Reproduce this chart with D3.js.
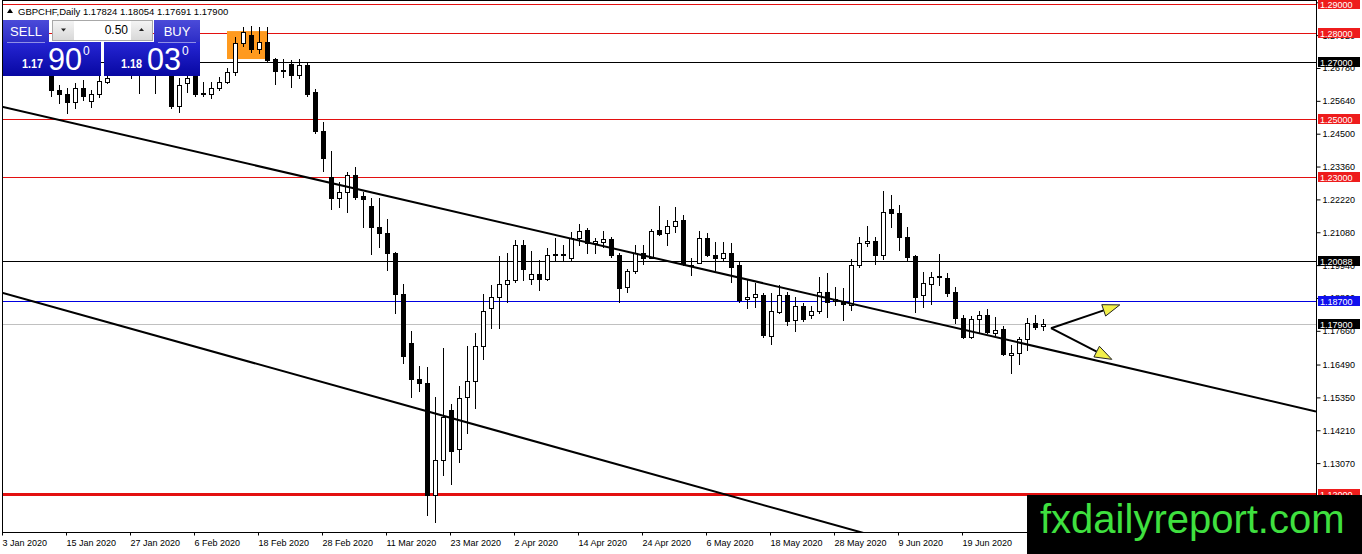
<!DOCTYPE html>
<html lang="en">
  <head>
    <meta charset="UTF-8" />
    <title>GBPCHF, Daily</title>
    <script src="https://d3js.org/d3.v7.min.js"></script>
    <style>
      body { margin: 0; background: #fff; }
      text { font-family: 'Liberation Sans', Arial, sans-serif; }
    </style>
  </head>
  <body>
    <div id="chart"></div>
    <script>
      // daily bars, 3 Jan 2020 .. 3 Jul 2020
      const open = [
        1.2770, 1.2720, 1.2765, 1.2735, 1.2775, 1.2760, 1.2657, 1.2602, 1.2588, 1.2560,
        1.2609, 1.2563, 1.2588, 1.2629, 1.2665, 1.2695, 1.2690, 1.2660, 1.2675, 1.2700,
        1.2680, 1.2670, 1.2546, 1.2626, 1.2655, 1.2592, 1.2588, 1.2609, 1.2629, 1.2664,
        1.2765, 1.2793, 1.2744, 1.2768, 1.2709, 1.2671, 1.2692, 1.2654, 1.2688, 1.2595,
        1.2459, 1.2300, 1.2227, 1.2248, 1.2307, 1.2234, 1.2199, 1.2126, 1.2105, 1.2036,
        1.1894, 1.1724, 1.1599, 1.1585, 1.1196, 1.1318, 1.1491, 1.1356, 1.1536, 1.1592,
        1.1713, 1.1845, 1.1883, 1.1928, 1.1942, 1.2064, 1.1946, 1.1963, 1.1946, 1.2029,
        1.2032, 1.2019, 1.2088, 1.2116, 1.2071, 1.2074, 1.2085, 1.2029, 1.1918, 1.1974,
        1.2036, 1.2019, 1.2116, 1.2105, 1.2130, 1.2151, 1.1994, 1.2001, 1.2088, 1.2029,
        1.2019, 1.2036, 1.1994, 1.1876, 1.1883, 1.1890, 1.1748, 1.1831, 1.1890, 1.1803,
        1.1852, 1.1821, 1.1835, 1.1901, 1.1870, 1.1869, 1.1856, 1.1994, 1.2071, 1.2078,
        1.2029, 1.2189, 1.2175, 1.2091, 1.2026, 1.1890, 1.1928, 1.1956, 1.1949, 1.1901,
        1.1810, 1.1745, 1.1807, 1.1821, 1.1758, 1.1772, 1.1682, 1.1689, 1.1738, 1.1793,
        1.17824
      ]
      const high = [
        1.2800, 1.2780, 1.2800, 1.2790, 1.2810, 1.2775, 1.2678, 1.2619, 1.2609, 1.2626,
        1.2636, 1.2602, 1.2650, 1.2671, 1.2710, 1.2730, 1.2715, 1.2695, 1.2710, 1.2725,
        1.2700, 1.2690, 1.2643, 1.2650, 1.2668, 1.2629, 1.2629, 1.2647, 1.2678, 1.2786,
        1.2820, 1.2824, 1.2820, 1.2820, 1.2713, 1.2709, 1.2706, 1.2709, 1.2699, 1.2605,
        1.2491, 1.2390, 1.2282, 1.2317, 1.2334, 1.2248, 1.2227, 1.2227, 1.2154, 1.2039,
        1.1928, 1.1765, 1.1644, 1.1640, 1.1536, 1.1706, 1.1512, 1.1574, 1.1713, 1.1758,
        1.1894, 1.1925, 1.2026, 1.2036, 1.2081, 1.2081, 1.2043, 1.2012, 1.2053, 1.2088,
        1.2064, 1.2109, 1.2137, 1.2123, 1.2088, 1.2112, 1.2091, 1.2036, 1.1981, 1.2064,
        1.2064, 1.2119, 1.2199, 1.2151, 1.2196, 1.2168, 1.2019, 1.2112, 1.2105, 1.2074,
        1.2074, 1.2071, 1.2005, 1.1942, 1.1932, 1.1897, 1.1897, 1.1925, 1.1901, 1.1883,
        1.1862, 1.1852, 1.1953, 1.1967, 1.1918, 1.1915, 1.2015, 1.2091, 1.2130, 1.2091,
        1.2251, 1.2237, 1.2203, 1.2126, 1.2030, 1.1970, 1.1970, 1.2033, 1.1967, 1.1918,
        1.1821, 1.1817, 1.1835, 1.1842, 1.1814, 1.1783, 1.1717, 1.1744, 1.1810, 1.1821,
        1.18054
      ]
      const low = [
        1.2705, 1.2700, 1.2715, 1.2720, 1.2740, 1.2660, 1.2581, 1.2557, 1.2522, 1.2539,
        1.2567, 1.2543, 1.2577, 1.2626, 1.2660, 1.2670, 1.2643, 1.2591, 1.2655, 1.2591,
        1.2660, 1.2539, 1.2525, 1.2595, 1.2581, 1.2581, 1.2574, 1.2602, 1.2626, 1.2654,
        1.2754, 1.2733, 1.2730, 1.2699, 1.2622, 1.2647, 1.2612, 1.2643, 1.2581, 1.2452,
        1.2321, 1.2189, 1.2196, 1.2178, 1.2223, 1.2126, 1.2033, 1.2057, 1.1977, 1.1828,
        1.1654, 1.1536, 1.1557, 1.1127, 1.1103, 1.1266, 1.1234, 1.1311, 1.1411, 1.1498,
        1.1668, 1.1776, 1.1776, 1.1866, 1.1935, 1.1942, 1.1928, 1.1908, 1.1942, 1.2012,
        1.2012, 1.2008, 1.2064, 1.2036, 1.2036, 1.2057, 1.2022, 1.1866, 1.1901, 1.1967,
        1.1998, 1.2019, 1.2098, 1.2064, 1.2109, 1.1994, 1.1960, 1.2001, 1.2026, 1.1977,
        1.2008, 1.1935, 1.1866, 1.1845, 1.1849, 1.1746, 1.1720, 1.1828, 1.1786, 1.1765,
        1.1800, 1.1810, 1.1828, 1.1814, 1.1856, 1.1803, 1.1838, 1.1987, 1.2060, 1.1998,
        1.2015, 1.2126, 1.2046, 1.2012, 1.1831, 1.1849, 1.1859, 1.1925, 1.1887, 1.1793,
        1.1741, 1.1741, 1.1758, 1.1758, 1.1751, 1.1682, 1.1620, 1.1651, 1.1699, 1.1772,
        1.17691
      ]
      const close = [
        1.2720, 1.2765, 1.2735, 1.2775, 1.2760, 1.2668, 1.2602, 1.2588, 1.2560, 1.2609,
        1.2581, 1.2588, 1.2633, 1.2643, 1.2695, 1.2685, 1.2660, 1.2675, 1.2700, 1.2680,
        1.2670, 1.2546, 1.2619, 1.2643, 1.2588, 1.2588, 1.2609, 1.2629, 1.2664, 1.2765,
        1.2803, 1.2744, 1.2768, 1.2706, 1.2667, 1.2667, 1.2654, 1.2688, 1.2588, 1.2459,
        1.2366, 1.2227, 1.2248, 1.2307, 1.2230, 1.2223, 1.2126, 1.2105, 1.2036, 1.1894,
        1.1679, 1.1599, 1.1585, 1.1196, 1.1318, 1.1467, 1.1349, 1.1533, 1.1592, 1.1713,
        1.1835, 1.1883, 1.1928, 1.1942, 1.2064, 1.1981, 1.1963, 1.1946, 1.2029, 1.2032,
        1.2029, 1.2088, 1.2112, 1.2071, 1.2078, 1.2085, 1.2029, 1.1915, 1.1974, 1.2036,
        1.2019, 1.2112, 1.2102, 1.2130, 1.2147, 1.1998, 1.1991, 1.2088, 1.2029, 1.2019,
        1.2036, 1.1987, 1.1873, 1.1883, 1.1894, 1.1750, 1.1835, 1.1890, 1.1800, 1.1852,
        1.1807, 1.1835, 1.1901, 1.1866, 1.1876, 1.1859, 1.1994, 1.2071, 1.2078, 1.2029,
        1.2178, 1.2175, 1.2091, 1.2022, 1.1883, 1.1932, 1.1953, 1.1953, 1.1897, 1.1810,
        1.1745, 1.1807, 1.1821, 1.1761, 1.1769, 1.1686, 1.1689, 1.1738, 1.1793, 1.1779,
        1.17900
      ]

      const symbol = 'GBPCHF,Daily'
      const askPrice = 1.1803
      const lotSize = '0.50'

      // time axis labels
      const tickDates = [
        '2020-01-03', '2020-01-15', '2020-01-27', '2020-02-06', '2020-02-18', '2020-02-28',
        '2020-03-11', '2020-03-23', '2020-04-02', '2020-04-14', '2020-04-24', '2020-05-06',
        '2020-05-18', '2020-05-28', '2020-06-09', '2020-06-19'
      ]
      // price axis labels
      const priceTicks = [
        1.2906, 1.2792, 1.2678, 1.2564, 1.2450, 1.2336, 1.2222, 1.2108,
        1.1994, 1.1880, 1.1766, 1.1649, 1.1535, 1.1421, 1.1307, 1.1193
      ]

      // horizontal levels drawn on the chart
      const levelPrices = [1.29, 1.28, 1.27, 1.25, 1.23, 1.20088, 1.187, 1.12]
      const levelKinds = ['res', 'res', 'pivot', 'res', 'res', 'pivot', 'target', 'support']

      // trend lines: [bar index, price] pairs
      const trendUpper = [[0, 1.2543], [130, 1.1706]]
      const trendLower = [[0, 1.1897], [130, 1.0891]]
      // highlighted zone (bar from, bar to, price top, price bottom)
      const zone = [28, 33, 1.2806, 1.2709]
      // scenario arrows
      const arrowFrom = [131, 1.1775]
      const arrowTo = [[139.6, 1.1856], [138.6, 1.1667]]

      const width = 1362, height = 554
      const plot = { left: 2, top: 1, right: 1316, bottom: 532.5 }

      const kindColor = { res: '#e31010', pivot: '#000000', target: '#0000e0', support: '#e31010' }
      const labelColor = { res: '#ee1c1c', pivot: '#000000', target: '#1010ee', support: '#ee1c1c' }

      const parse = d3.timeParse('%Y-%m-%d')
      const fmtDate = d3.timeFormat('%-d %b %Y')
      const fmtPrice = d3.format('.5f')

      const days = d3.timeDay
        .range(new Date(2020, 0, 3), new Date(2020, 6, 4))
        .filter(d => d.getDay() % 6 !== 0)

      const bars = days.map((d, i) => ({ i, date: d, o: open[i], h: high[i], l: low[i], c: close[i] }))

      const x = d3.scaleLinear().domain([0, 130]).range([3, 1043])
      const y = d3.scaleLinear().domain([1.10645, 1.29104]).range([533, 1])

      const svg = d3
        .select('#chart')
        .append('svg')
        .attr('width', width)
        .attr('height', height)
        .style('display', 'block')

      const defs = svg.append('defs')
      defs.append('clipPath').attr('id', 'plotclip')
        .append('rect')
        .attr('x', plot.left).attr('y', plot.top)
        .attr('width', plot.right - plot.left).attr('height', plot.bottom - plot.top)

      const grad = (id, c0, c1) => {
        const g = defs.append('linearGradient').attr('id', id)
          .attr('x1', 0).attr('y1', 0).attr('x2', 0).attr('y2', 1)
        g.append('stop').attr('offset', '0%').attr('stop-color', c0)
        g.append('stop').attr('offset', '100%').attr('stop-color', c1)
      }
      grad('btnGrad', '#4b4bd9', '#2d2dc6')
      grad('priceGrad', '#2626d4', '#0707a2')
      grad('spinGrad', '#f4f4f4', '#d8d8d8')

      svg.append('rect').attr('width', width).attr('height', height).attr('fill', '#fff')

      const chart = svg.append('g').attr('clip-path', 'url(#plotclip)')

      // horizontal levels
      chart.selectAll('.level')
        .data(levelPrices)
        .join('line')
        .attr('class', 'level')
        .attr('x1', plot.left).attr('x2', plot.right)
        .attr('y1', d => Math.round(y(d)) + 0.5)
        .attr('y2', d => Math.round(y(d)) + 0.5)
        .attr('stroke', (d, i) => kindColor[levelKinds[i]])
        .attr('stroke-width', (d, i) => levelKinds[i] === 'support' ? 3 : 1)

      // bid line
      const bid = close[close.length - 1]
      chart.append('line')
        .attr('x1', plot.left).attr('x2', plot.right)
        .attr('y1', Math.round(y(bid)) + 0.5).attr('y2', Math.round(y(bid)) + 0.5)
        .attr('stroke', '#c0c0c0')

      // highlighted zone
      chart.append('rect')
        .attr('x', x(zone[0]))
        .attr('y', y(zone[2]))
        .attr('width', x(zone[1]) - x(zone[0]) + 1)
        .attr('height', y(zone[3]) - y(zone[2]))
        .attr('fill', '#ff9a1e')

      // candles
      const cx = d => Math.round(x(d.i)) + 0.5
      const candles = chart.append('g').attr('shape-rendering', 'crispEdges')
      candles.selectAll('.wick')
        .data(bars)
        .join('line')
        .attr('class', 'wick')
        .attr('x1', cx).attr('x2', cx)
        .attr('y1', d => Math.round(y(d.h)))
        .attr('y2', d => Math.round(y(d.l)) + 1)
        .attr('stroke', '#000')
      candles.selectAll('.body')
        .data(bars)
        .join('rect')
        .attr('class', 'body')
        .attr('x', d => cx(d) - 2)
        .attr('y', d => Math.round(y(Math.max(d.o, d.c))) + 0.5)
        .attr('width', 4)
        .attr('height', d => Math.max(1, Math.round(y(Math.min(d.o, d.c))) - Math.round(y(Math.max(d.o, d.c)))))
        .attr('fill', d => d.c >= d.o ? '#fff' : '#000')
        .attr('stroke', '#000')

      // trend lines extended across the plot
      const i0 = x.invert(plot.left), i1 = x.invert(plot.right)
      const extend = pts => {
        const s = (pts[1][1] - pts[0][1]) / (pts[1][0] - pts[0][0])
        return [[i0, pts[0][1] + s * (i0 - pts[0][0])], [i1, pts[0][1] + s * (i1 - pts[0][0])]]
      }
      const lineGen = d3.line().x(d => x(d[0])).y(d => y(d[1]))
      chart.selectAll('.trend')
        .data([trendUpper, trendLower])
        .join('path')
        .attr('class', 'trend')
        .attr('d', d => lineGen(extend(d)))
        .attr('fill', 'none')
        .attr('stroke', '#000')
        .attr('stroke-width', 2)

      // scenario arrows
      const ax = x(arrowFrom[0]), ay = y(arrowFrom[1])
      arrowTo.forEach(t => {
        const tx = x(t[0]), ty = y(t[1])
        const ang = Math.atan2(ty - ay, tx - ax)
        const len = 17, hw = 6
        const bx = tx - len * Math.cos(ang), by = ty - len * Math.sin(ang)
        const nx = -Math.sin(ang), ny = Math.cos(ang)
        chart.append('line')
          .attr('x1', ax).attr('y1', ay).attr('x2', bx).attr('y2', by)
          .attr('stroke', '#000').attr('stroke-width', 2)
        chart.append('path')
          .attr('d', `M${tx},${ty}L${bx + nx * hw},${by + ny * hw}L${bx - nx * hw},${by - ny * hw}Z`)
          .attr('fill', '#f2f04a')
          .attr('stroke', '#222')
          .attr('stroke-width', 1)
      })

      // frame
      svg.append('rect')
        .attr('x', plot.left + 0.5).attr('y', plot.top - 0.5)
        .attr('width', plot.right - plot.left).attr('height', plot.bottom - plot.top + 0.5)
        .attr('fill', 'none')
        .attr('stroke', '#000')

      // price axis
      const yAxis = svg.append('g')
        .attr('transform', `translate(${plot.right + 0.5},0)`)
        .call(d3.axisRight(y).tickValues(priceTicks).tickSize(4).tickSizeOuter(0).tickPadding(2).tickFormat(fmtPrice))
      yAxis.select('.domain').remove()
      yAxis.selectAll('text').attr('font-size', 9).attr('font-family', 'Liberation Sans, Arial, sans-serif').attr('fill', '#000')
      yAxis.selectAll('line').attr('stroke', '#000')

      // time axis
      const tickIdx = tickDates.map(s => days.findIndex(d => +d === +parse(s)))
      const xAxis = svg.append('g')
        .attr('transform', `translate(0,${plot.bottom})`)
        .call(d3.axisBottom(x).tickValues(tickIdx).tickSize(3).tickSizeOuter(0).tickFormat(i => fmtDate(days[i])))
      xAxis.select('.domain').remove()
      xAxis.selectAll('.tick').attr('transform', d => `translate(${Math.round(x(d)) - 0.5},0)`)
      xAxis.selectAll('line').attr('stroke', '#000')
      xAxis.selectAll('text')
        .attr('text-anchor', 'start')
        .attr('x', 0)
        .attr('y', 13)
        .attr('dy', 0)
        .attr('font-size', 9)
        .attr('font-family', 'Liberation Sans, Arial, sans-serif')
        .attr('fill', '#000')

      // price labels on the axis
      const tags = levelPrices.map((p, i) => ({ p, fill: labelColor[levelKinds[i]] }))
      tags.push({ p: bid, fill: '#000000' })
      const tag = svg.selectAll('.tag')
        .data(tags)
        .join('g')
        .attr('class', 'tag')
        .attr('transform', d => `translate(${plot.right + 2},${Math.round(y(d.p))})`)
      tag.append('rect')
        .attr('x', 0).attr('y', -5).attr('width', 42).attr('height', 10)
        .attr('fill', d => d.fill)
      tag.append('text')
        .attr('x', 2).attr('y', 4)
        .attr('font-size', 9)
        .attr('fill', '#fff')
        .text(d => fmtPrice(d.p))

      // title
      const last = bars[bars.length - 1]
      svg.append('path').attr('d', 'M7,13L10,8.5L13,13Z').attr('fill', '#000')
      svg.append('text')
        .attr('x', 18).attr('y', 15)
        .attr('font-size', 9.5)
        .attr('fill', '#000')
        .text(`${symbol}  ${[last.o, last.h, last.l, last.c].map(fmtPrice).join(' ')}`)

      // one-click trading panel
      const panel = svg.append('g')
      const drawSide = (left, w, label, price) => {
        const s = fmtPrice(price)
        const btnX = label === 'SELL' ? left : left + w - 46
        panel.append('rect').attr('x', btnX).attr('y', 20).attr('width', 46).attr('height', 22).attr('fill', 'url(#btnGrad)')
        panel.append('rect').attr('x', left).attr('y', 42).attr('width', w).attr('height', 34).attr('fill', 'url(#priceGrad)')
        panel.append('line')
          .attr('x1', btnX + 4).attr('x2', btnX + 42).attr('y1', 42.5).attr('y2', 42.5)
          .attr('stroke', '#8f8fe6')
        panel.append('text')
          .attr('x', btnX + 23).attr('y', 36)
          .attr('text-anchor', 'middle').attr('font-size', 13).attr('fill', '#fff')
          .text(label)
        const base = left + w - 96
        panel.append('text')
          .attr('x', base + 17).attr('y', 68)
          .attr('font-size', 13).attr('font-weight', 'bold').attr('fill', '#fff')
          .attr('textLength', 21).attr('lengthAdjust', 'spacingAndGlyphs')
          .text(s.slice(0, 4))
        panel.append('text')
          .attr('x', base + 43).attr('y', 70)
          .attr('font-size', 31).attr('fill', '#fff')
          .attr('textLength', 34).attr('lengthAdjust', 'spacingAndGlyphs')
          .text(s.slice(4, 6))
        panel.append('text')
          .attr('x', base + 78).attr('y', 55)
          .attr('font-size', 12).attr('fill', '#fff')
          .text(s.slice(6))
      }
      drawSide(3, 98, 'SELL', bid)
      drawSide(104, 96, 'BUY', askPrice)

      // lot spinner
      panel.append('rect').attr('x', 52.5).attr('y', 20.5).attr('width', 100).attr('height', 20).attr('fill', '#fff').attr('stroke', '#a8a8a8')
      panel.append('rect').attr('x', 53).attr('y', 21).attr('width', 21).attr('height', 19).attr('fill', 'url(#spinGrad)')
      panel.append('rect').attr('x', 131).attr('y', 21).attr('width', 21).attr('height', 19).attr('fill', 'url(#spinGrad)')
      panel.append('path').attr('d', 'M61,28.5H66L63.5,31.5Z').attr('fill', '#222')
      panel.append('path').attr('d', 'M139,31H144L141.5,28Z').attr('fill', '#222')
      panel.append('text')
        .attr('x', 128).attr('y', 34)
        .attr('text-anchor', 'end').attr('font-size', 12).attr('fill', '#000')
        .text(lotSize)

      // watermark
      svg.append('rect').attr('x', 1027).attr('y', 495).attr('width', width - 1027).attr('height', height - 495).attr('fill', '#000')
      svg.append('text')
        .attr('x', 1040).attr('y', 533)
        .attr('font-size', 40)
        .attr('fill', '#3fe03f')
        .text('fxdailyreport.com')
    </script>
  </body>
</html>
